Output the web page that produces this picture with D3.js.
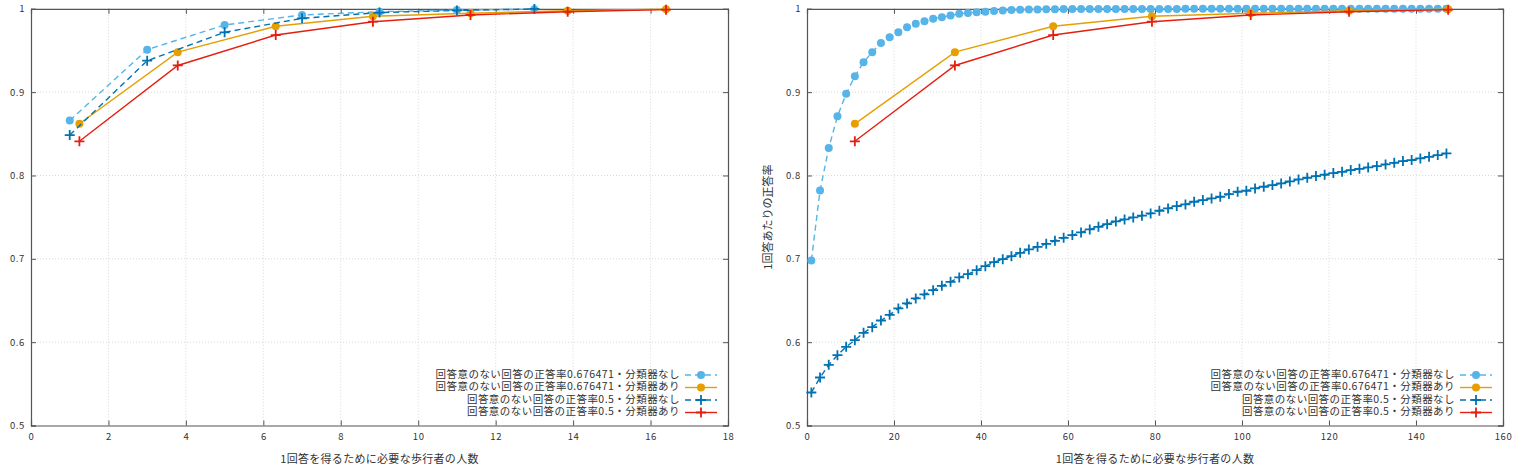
<!DOCTYPE html>
<html>
<head>
<meta charset="utf-8">
<script src="https://cdn.jsdelivr.net/npm/d3@7"></script>
<style>
body { margin: 0; background: #fff; }
svg { display: block; }
text { font-family: "Noto Sans CJK JP", "DejaVu Sans", sans-serif; fill: #333; }
</style>
</head>
<body>
<svg id="chart" width="1514" height="468"></svg>
<script>
// ---- data ----
var seriesNames = [
    "回答意のない回答の正答率0.676471・分類器なし",
    "回答意のない回答の正答率0.676471・分類器あり",
    "回答意のない回答の正答率0.5・分類器なし",
    "回答意のない回答の正答率0.5・分類器あり"
];
var seriesColors = ["#56b4e9", "#e69f00", "#0072b2", "#e51e10"];

var xLabel = "1回答を得るために必要な歩行者の人数";
var yLabel = "1回答あたりの正答率";

var yTicks = [0.5, 0.6, 0.7, 0.8, 0.9, 1];
var leftXTicks = [0, 2, 4, 6, 8, 10, 12, 14, 16, 18];
var rightXTicks = [0, 20, 40, 60, 80, 100, 120, 140, 160];

// left panel
var leftNoClsX = [1, 3, 5, 7, 9, 11, 13];
var leftNoCls676 = [0.866, 0.951, 0.9806, 0.9926, 0.9965, 0.9985, 0.9995];
var leftNoCls05 = [0.8485, 0.9377, 0.9718, 0.9886, 0.9955, 0.998, 0.9998];
var leftClsX = [1.25, 3.79, 6.32, 8.83, 11.35, 13.86, 16.4];

// classifier series (same values on both panels)
var cls676 = [0.862, 0.948, 0.979, 0.991, 0.9946, 0.9977, 0.9994];
var cls05 = [0.841, 0.932, 0.9685, 0.9845, 0.9926, 0.9965, 0.999];

// right panel
var rightClsX = [11.0, 34.0, 56.6, 79.3, 102.0, 124.6, 147.4];
var rightNoClsX = [1, 3, 5, 7, 9, 11, 13, 15, 17, 19, 21, 23, 25, 27, 29, 31, 33, 35, 37, 39,
    41, 43, 45, 47, 49, 51, 53, 55, 57, 59, 61, 63, 65, 67, 69, 71, 73, 75, 77, 79,
    81, 83, 85, 87, 89, 91, 93, 95, 97, 99, 101, 103, 105, 107, 109, 111, 113, 115, 117, 119,
    121, 123, 125, 127, 129, 131, 133, 135, 137, 139, 141, 143, 145, 147];
var rightNoCls676 = [0.698, 0.782, 0.833, 0.871, 0.898, 0.919, 0.936, 0.948, 0.959, 0.966,
    0.972, 0.978, 0.982, 0.985, 0.988, 0.990, 0.992, 0.994, 0.995, 0.996,
    0.9966, 0.9974, 0.998, 0.9985, 0.9988, 0.9991, 0.9993, 0.9995, 0.9996, 0.9997,
    0.9997, 0.9998, 0.9998, 0.9999, 0.9999, 0.9999, 0.9999, 0.9999, 0.9999, 0.9999,
    0.9999, 0.9999, 0.9999, 1, 1, 1, 1, 1, 1, 1,
    1, 1, 1, 1, 1, 1, 1, 1, 1, 1,
    1, 1, 1, 1, 1, 1, 1, 1, 1, 1,
    1, 1, 1, 1];
var rightNoCls05 = [0.5396, 0.5576, 0.5728, 0.5844, 0.5944, 0.6024, 0.6112, 0.618, 0.626, 0.6328,
    0.6405, 0.6465, 0.6525, 0.6573, 0.6624, 0.6676, 0.6724, 0.6777, 0.6816, 0.6864,
    0.6912, 0.696, 0.6996, 0.7032, 0.7072, 0.7113, 0.7144, 0.718, 0.7216, 0.7252,
    0.7285, 0.7317, 0.7353, 0.7384, 0.7416, 0.7449, 0.7473, 0.7497, 0.7518, 0.7545,
    0.7577, 0.7605, 0.7633, 0.7653, 0.7685, 0.7705, 0.7725, 0.7745, 0.7777, 0.7805,
    0.7817, 0.7845, 0.7865, 0.7885, 0.7905, 0.7929, 0.7953, 0.7973, 0.7993, 0.8009,
    0.8029, 0.8044, 0.8065, 0.808, 0.8097, 0.8113, 0.8133, 0.8152, 0.8173, 0.8185,
    0.8205, 0.8224, 0.8245, 0.8265];

var zip = (xs, ys) => xs.map((x, i) => [x, ys[i]]);

var svg = d3.select("#chart");

function drawPanel(p) {
    var g = svg.append("g");
    var x = d3.scaleLinear().domain(p.xDomain).range([p.left, p.right]);
    var y = d3.scaleLinear().domain([0.5, 1]).range([p.bottom, p.top]);

    // grid
    g.selectAll(".gx").data(p.xTicks.slice(1, -1)).enter().append("line")
        .attr("x1", d => x(d)).attr("x2", d => x(d))
        .attr("y1", p.top).attr("y2", p.bottom)
        .attr("stroke", "#cfcfcf").attr("stroke-width", 0.8).attr("stroke-dasharray", "1,2");
    g.selectAll(".gy").data(yTicks.slice(1, -1)).enter().append("line")
        .attr("x1", p.left).attr("x2", p.right)
        .attr("y1", d => y(d)).attr("y2", d => y(d))
        .attr("stroke", "#cfcfcf").attr("stroke-width", 0.8).attr("stroke-dasharray", "1,2");

    // axes, ticks inward on all four sides
    var fmt = d3.format("");
    g.append("g").attr("transform", `translate(0,${p.bottom})`)
        .call(d3.axisBottom(x).tickValues(p.xTicks).tickSize(-5).tickPadding(8).tickFormat(fmt));
    g.append("g").attr("transform", `translate(0,${p.top})`)
        .call(d3.axisTop(x).tickValues(p.xTicks).tickSize(-5).tickFormat(""));
    g.append("g").attr("transform", `translate(${p.left},0)`)
        .call(d3.axisLeft(y).tickValues(yTicks).tickSize(-5).tickPadding(6).tickFormat(fmt));
    g.append("g").attr("transform", `translate(${p.right},0)`)
        .call(d3.axisRight(y).tickValues(yTicks).tickSize(-5).tickFormat(""));
    g.selectAll(".domain").attr("stroke", "#555").attr("stroke-width", 1.2);
    g.selectAll(".tick line").attr("stroke", "#555");
    g.selectAll(".tick text").style("font-size", "9.5px").attr("fill", "#444")
        .style("letter-spacing", "0.6px");

    var line = d3.line().x(d => x(d[0])).y(d => y(d[1]));

    p.series.forEach((s, i) => {
        var col = seriesColors[i];
        g.append("path").datum(s.data)
            .attr("d", line).attr("fill", "none").attr("stroke", col)
            .attr("stroke-width", 1.4)
            .attr("stroke-dasharray", s.dashed ? "6,4" : null);
        if (s.marker === "circle") {
            g.selectAll(null).data(s.data).enter().append("circle")
                .attr("cx", d => x(d[0])).attr("cy", d => y(d[1]))
                .attr("r", 4).attr("fill", col);
        } else {
            g.selectAll(null).data(s.data).enter().append("path")
                .attr("d", d => `M${x(d[0]) - 5},${y(d[1])}h10M${x(d[0])},${y(d[1]) - 5}v10`)
                .attr("stroke", col).attr("stroke-width", 1.8);
        }
    });

    // legend
    var leg = g.append("g");
    seriesNames.forEach((name, i) => {
        var ly = p.legendTop + i * 12.5;
        var x1 = p.right - 43, x2 = p.right - 11;
        leg.append("text").attr("x", x1 - 5).attr("y", ly)
            .attr("text-anchor", "end").attr("dominant-baseline", "middle")
            .style("font-size", "10.5px").style("letter-spacing", "0.45px")
            .attr("fill", "#444").text(name);
        leg.append("line").attr("x1", x1).attr("x2", x2).attr("y1", ly).attr("y2", ly)
            .attr("stroke", seriesColors[i]).attr("stroke-width", 1.4)
            .attr("stroke-dasharray", i % 2 === 0 ? "6,4" : null);
        var mx = (x1 + x2) / 2;
        if (i < 2) {
            leg.append("circle").attr("cx", mx).attr("cy", ly).attr("r", 4).attr("fill", seriesColors[i]);
        } else {
            leg.append("path").attr("d", `M${mx - 5},${ly}h10M${mx},${ly - 5}v10`)
                .attr("stroke", seriesColors[i]).attr("stroke-width", 1.8);
        }
    });

    // labels
    g.append("text").attr("x", (p.left + p.right) / 2).attr("y", 463)
        .attr("text-anchor", "middle").style("font-size", "11px").style("letter-spacing", "0.3px")
        .attr("fill", "#444").text(xLabel);
    if (p.showYLabel) {
        g.append("text").attr("transform", `translate(${p.left - 38},${(p.top + p.bottom) / 2}) rotate(-90)`)
            .attr("text-anchor", "middle").attr("dominant-baseline", "middle")
            .style("font-size", "11px").attr("fill", "#444").text(yLabel);
    }
}

drawPanel({
    left: 31, right: 728, top: 8.8, bottom: 425.5,
    xDomain: [0, 18], xTicks: leftXTicks, legendTop: 375, showYLabel: false,
    series: [
        { data: zip(leftNoClsX, leftNoCls676), marker: "circle", dashed: true },
        { data: zip(leftClsX, cls676), marker: "circle", dashed: false },
        { data: zip(leftNoClsX, leftNoCls05), marker: "plus", dashed: true },
        { data: zip(leftClsX, cls05), marker: "plus", dashed: false }
    ]
});

drawPanel({
    left: 807, right: 1503, top: 8.8, bottom: 425.5,
    xDomain: [0, 160], xTicks: rightXTicks, legendTop: 375, showYLabel: true,
    series: [
        { data: zip(rightNoClsX, rightNoCls676), marker: "circle", dashed: true },
        { data: zip(rightClsX, cls676), marker: "circle", dashed: false },
        { data: zip(rightNoClsX, rightNoCls05), marker: "plus", dashed: true },
        { data: zip(rightClsX, cls05), marker: "plus", dashed: false }
    ]
});
</script>
</body>
</html>
